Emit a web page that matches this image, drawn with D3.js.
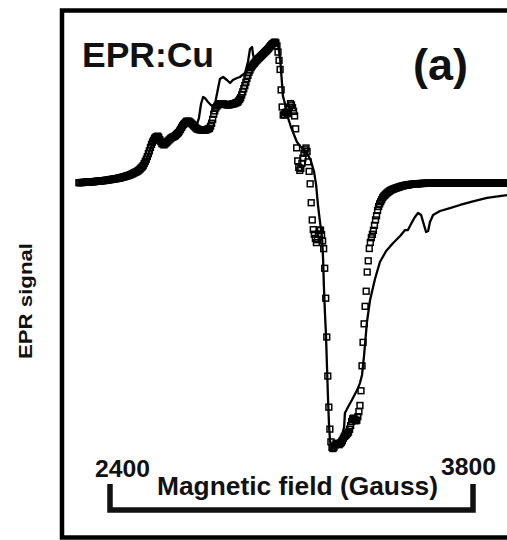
<!DOCTYPE html>
<html>
<head>
<meta charset="utf-8">
<script src="https://cdn.jsdelivr.net/npm/d3@7"></script>
<style>
  html, body { margin: 0; padding: 0; background: #fff; }
  svg { display: block; }
  text { font-family: "Liberation Sans", Arial, Helvetica, sans-serif; font-weight: bold; fill: #111; }
</style>
</head>
<body>
<div id="chart"></div>
<script>
// ---------------- data ----------------
// Experimental spectrum (solid line): magnetic field (G) and EPR signal (a.u.)
const expField = [2280, 2323, 2381, 2439, 2477, 2508, 2527, 2543, 2554, 2566, 2574, 2581, 2589, 2597, 2608, 2620, 2635, 2655, 2670, 2685,
  2701, 2716, 2732, 2743, 2751, 2759, 2766, 2778, 2793, 2805, 2817, 2824, 2836, 2851, 2863, 2874, 2890, 2901, 2921, 2932,
  2940, 2948, 2952, 2959, 2971, 2990, 3009, 3025, 3040, 3048, 3056, 3063, 3067, 3079, 3087, 3098, 3110, 3121, 3133, 3148,
  3164, 3175, 3187, 3195, 3202, 3210, 3218, 3222, 3225, 3229, 3233, 3237, 3241, 3245, 3249, 3256, 3268, 3279, 3295, 3303,
  3306, 3318, 3333, 3353, 3364, 3372, 3380, 3384, 3391, 3403, 3422, 3441, 3465, 3492, 3519, 3538, 3549, 3565, 3576, 3588,
  3600, 3611, 3619, 3627, 3634, 3646, 3673, 3711, 3750, 3800, 3854, 3931];
const expSignal = [0.1, 0.7, 1.8, 3.6, 5.7, 8.6, 12.1, 17.9, 23.6, 29.3, 32.9, 34.3, 32.9, 27.9, 27.1, 29.3, 32.1, 33.6, 37.1, 42.1,
  44.3, 42.1, 40.0, 46.4, 56.4, 61.4, 60.7, 57.9, 55.0, 56.4, 67.9, 74.3, 75.7, 73.6, 71.4, 73.6, 75.0, 75.7, 78.6, 86.4,
  95.7, 97.1, 91.4, 87.1, 90.0, 93.6, 97.1, 100.0, 102.1, 98.6, 89.3, 72.1, 62.1, 53.6, 46.4, 40.0, 34.3, 29.3, 26.4, 23.6,
  20.0, 15.7, 7.9, -1.4, -15.7, -27.9, -39.3, -55.0, -74.3, -92.9, -108.6, -132.1, -155.0, -174.3, -185.0, -189.3, -188.6, -184.3, -180.0, -174.3,
  -164.3, -160.0, -155.0, -147.9, -142.9, -137.1, -122.9, -114.3, -99.3, -83.6, -68.6, -56.4, -48.6, -42.9, -37.9, -33.6, -33.6, -27.9, -24.3, -21.4,
  -22.9, -30.0, -35.0, -34.3, -27.9, -22.9, -20.0, -17.9, -15.7, -13.2, -10.7, -8.6];

// Simulated spectrum (open squares), sampled every 4 G
const simStart = 2280, simStep = 4;
const simLow = [0.2, 0.25, 0.3, 0.35, 0.4, 0.45, 0.5, 0.55, 0.6, 0.65,
  0.7, 0.75, 0.8, 0.85, 0.9, 1.0, 1.1, 1.2, 1.3, 1.35,
  1.4, 1.5, 1.6, 1.65, 1.7, 1.8, 1.9, 2.0, 2.1, 2.25,
  2.4, 2.5, 2.6, 2.75, 2.9, 3.0, 3.1, 3.25, 3.4, 3.55,
  3.7, 3.9, 4.1, 4.3, 4.5, 4.75, 5.0, 5.2, 5.4, 5.7,
  6.0, 6.35, 6.7, 7.1, 7.5, 7.8, 8.2, 8.7, 9.3, 10.0,
  10.8, 11.5, 12.4,
  13.9, 15.4, 17.0, 18.9, 21.0, 23.0, 25.4, 27.5, 29.2, 30.5,
  32.0, 32.7, 33.1, 33.5, 32.6, 31.0, 29.6, 28.1, 27.9, 27.2,
  27.9, 28.6, 29.3, 30.1, 30.8, 31.5, 32.2, 32.6, 32.9, 33.3,
  33.8, 34.6, 35.3, 36.0, 37.1, 38.3, 39.7, 40.9, 41.9, 42.6,
  43.4, 44.1, 44.1, 44.1, 43.6, 43.0, 42.2, 41.5, 40.7, 40.0,
  39.2, 38.6, 38.4, 38.1, 38.0, 37.9, 37.9, 37.9, 37.9, 37.9,
  38.0, 38.4, 38.7, 39.1, 40.6, 42.7, 45.5, 49.1, 51.5, 53.6,
  54.9, 55.6, 56.4, 56.4, 56.4, 56.4, 56.4, 56.3, 56.1, 56.0,
  55.9, 55.7, 55.9, 56.0, 56.2, 56.4, 56.6, 56.7, 57.1, 57.4,
  57.7, 58.6, 59.8, 60.9, 62.9, 65.1, 67.4, 69.6, 72.0, 74.6,
  76.9, 79.1, 80.7, 82.4, 83.6, 84.6, 85.4, 86.4, 87.3, 88.0,
  88.8, 89.5, 90.2, 91.0, 91.7, 92.4, 93.2, 93.9, 94.6, 95.4,
  96.2, 97.2, 98.1, 99.0, 99.6, 100.1];
const simMid = [100.7, 100.1, 97.9, 93.5, 87.6, 81.1, 66.5, 54.3, 48.6, 48.6,
  50.1, 50.6, 49.5, 50.0, 54.2, 56.7, 55.7, 53.7, 51.2, 47.9,
  38.7, 25.1, 15.8, 11.1, 9.0, 10.5, 14.0, 17.8, 21.2, 23.7,
  25.0, 22.5, 15.1, 8.3, -0.6, -14.1, -26.4, -33.3, -36.6, -39.6,
  -42.6, -40.5, -36.4, -33.7, -33.7, -36.9, -41.4, -46.9, -60.9, -82.3,
  -110.0, -137.9, -160.1, -175.8, -184.9, -188.8, -189.7, -188.7, -187.2, -186.1,
  -185.9, -186.7, -186.9, -186.1, -185.4, -184.1, -182.3, -181.1, -180.4, -179.7,
  -178.9, -177.9, -175.9, -173.3, -170.4, -168.4, -167.9, -168.9, -169.9, -169.4,
  -166.9, -163.3, -158.9, -148.4, -130.6, -113.8, -100.6, -88.1, -77.3, -63.6,
  -55.6, -46.8, -42.4, -39.1, -36.6, -33.8, -30.3, -26.4, -23.4, -19.6,
  -16.8, -14.9, -13.4, -11.9, -10.4, -9.4, -8.7];
const simHigh = [-7.9, -7.2, -6.6, -6.1, -5.5, -5.0, -4.7, -4.4, -4.1, -3.8,
  -3.55, -3.3, -3.05, -2.8, -2.55, -2.3, -2.1, -1.9, -1.75, -1.6,
  -1.5, -1.4, -1.25, -1.1, -1.0, -0.9, -0.85, -0.8, -0.7, -0.6,
  -0.55, -0.5, -0.45, -0.4, -0.35, -0.3, -0.3, -0.3, -0.25, -0.2,
  -0.2, -0.2, -0.2, -0.2, -0.15, -0.1, -0.1, -0.1, -0.1, -0.1,
  -0.05, 0, 0, 0, 0, 0, 0, 0, 0, 0,
  0, 0, 0, 0, 0, 0, 0, 0, 0, 0,
  0, 0, 0, 0, 0, 0, 0, 0, 0, 0,
  0, 0, 0, 0, 0, 0, 0, 0, 0, 0,
  0, 0, 0, 0, 0, 0, 0, 0, 0, 0,
  0, 0, 0, 0, 0, 0, 0, 0, 0, 0,
  0, 0, 0, 0, 0, 0, 0, 0, 0, 0];

// Field range marked by the bracket and its labels
const rangeFields = [2400, 3800];
const rangeLabels = ["2400", "3800"];
const xTitle = "Magnetic field (Gauss)";
const yTitle = "EPR signal";
const sampleLabel = "EPR:Cu";
const panelLabel = "(a)";

// ---------------- drawing ----------------
const W = 507, H = 540;
const svg = d3.select("#chart").append("svg").attr("width", W).attr("height", H)
  .style("background", "#fff");

const x = d3.scaleLinear().domain(rangeFields).range([110, 473]);
const y = d3.scaleLinear().domain([0, 100]).range([183, 43]);

const expData = expField.map((f, i) => [f, expSignal[i]]);
const simData = [...simLow, ...simMid, ...simHigh].map((v, i) => [simStart + i * simStep, v]);

// clip region: inside the frame
svg.append("clipPath").attr("id", "plotClip")
  .append("rect").attr("x", 65).attr("y", 13).attr("width", W - 65).attr("height", 520);

const plot = svg.append("g").attr("clip-path", "url(#plotClip)");

// simulated squares
const sq = 5.8;
plot.append("g").selectAll("rect").data(simData).join("rect")
  .attr("x", d => x(d[0]) - sq / 2)
  .attr("y", d => y(d[1]) - sq / 2)
  .attr("width", sq).attr("height", sq)
  .attr("fill", "none").attr("stroke", "#000").attr("stroke-width", 1.5);

// experimental line
plot.append("path").datum(expData)
  .attr("d", d3.line().x(d => x(d[0])).y(d => y(d[1])))
  .attr("fill", "none").attr("stroke", "#000").attr("stroke-width", 2.3)
  .attr("stroke-linejoin", "round");

// frame
svg.append("rect").attr("x", 62).attr("y", 10.5).attr("width", 470).attr("height", 527)
  .attr("fill", "none").attr("stroke", "#000").attr("stroke-width", 4.5);

// labels
svg.append("text").attr("x", 82).attr("y", 67).attr("font-size", 35)
  .attr("textLength", 132).attr("lengthAdjust", "spacingAndGlyphs").text(sampleLabel);
svg.append("text").attr("x", 413).attr("y", 80).attr("font-size", 44)
  .attr("textLength", 55).attr("lengthAdjust", "spacingAndGlyphs").text(panelLabel);

svg.append("text")
  .attr("transform", "translate(32,301) rotate(-90)")
  .attr("text-anchor", "middle").attr("font-size", 19)
  .attr("textLength", 116).attr("lengthAdjust", "spacingAndGlyphs")
  .text(yTitle);

// bracket marking field range
const bY = 510, bTop = 484;
svg.append("path")
  .attr("d", `M${x(rangeFields[0])},${bTop}V${bY}H${x(rangeFields[1])}V${bTop}`)
  .attr("fill", "none").attr("stroke", "#111").attr("stroke-width", 5.5)
  .attr("stroke-linejoin", "miter");

const labelDx = [12.5, -4.5], labelY = [477, 475];
svg.selectAll("text.rng").data(rangeLabels).join("text").attr("class", "rng")
  .attr("x", (d, i) => x(rangeFields[i]) + labelDx[i])
  .attr("y", (d, i) => labelY[i])
  .attr("text-anchor", "middle").attr("font-size", 23)
  .attr("textLength", 55).attr("lengthAdjust", "spacingAndGlyphs")
  .text(d => d);

svg.append("text").attr("x", 297.5).attr("y", 495).attr("text-anchor", "middle")
  .attr("font-size", 25).attr("textLength", 281).attr("lengthAdjust", "spacingAndGlyphs")
  .text(xTitle);
</script>
</body>
</html>
